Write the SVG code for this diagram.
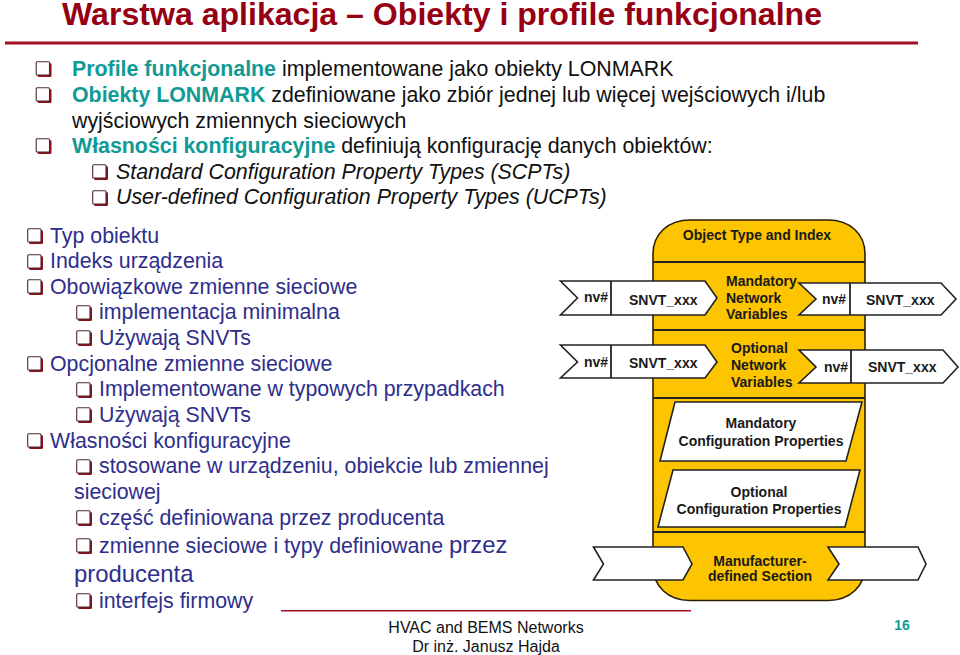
<svg xmlns="http://www.w3.org/2000/svg" width="960" height="655" viewBox="0 0 960 655">
<style>
text{font-family:"Liberation Sans",Arial,sans-serif}
.t{font-size:21.35px;fill:#111}
.g{font-weight:bold;fill:#119a94}
.i{font-size:21.35px;font-style:italic;fill:#111}
.b{font-size:21.35px;fill:#2e2e8c}
.d{font-size:14px;font-weight:bold;fill:#1a1a1a}
.a{fill:#fff;stroke:#222;stroke-width:1.6}
.l{stroke:#222;stroke-width:1.8;fill:none}
.dl{text-anchor:middle}
</style>
<defs>
<g id="cb">
<rect x="2" y="2" width="14" height="14" rx="1.500" fill="#8e0f1a"/>
<rect x="0.700" y="0.700" width="13.300" height="13.300" rx="1" fill="#fff" stroke="#4a2a2e" stroke-width="1.100"/>
</g>
</defs>
<rect width="960" height="655" fill="#fff"/>
<g id="title">
<text x="62" y="25" font-size="32.100" font-weight="bold" fill="#960012">Warstwa aplikacja – Obiekty i profile funkcjonalne</text>
<rect x="5" y="41.500" width="913" height="3" fill="#a01020"/>
</g>
<g id="top-list">
<use href="#cb" x="35.500" y="61"/><text x="72" y="76" class="t"><tspan class="g">Profile funkcjonalne</tspan> implementowane jako obiekty LONMARK</text>
<use href="#cb" x="35.500" y="87"/><text x="72" y="102" class="t"><tspan class="g">Obiekty LONMARK</tspan> zdefiniowane jako zbiór jednej lub więcej wejściowych i/lub</text>
<text x="72" y="127.500" class="t">wyjściowych zmiennych sieciowych</text>
<use href="#cb" x="35.500" y="138"/><text x="72" y="153" class="t"><tspan class="g">Własności konfiguracyjne</tspan> definiują konfigurację danych obiektów:</text>
<use href="#cb" x="92" y="164"/><text x="116" y="178.500" class="i">Standard Configuration Property Types (SCPTs)</text>
<use href="#cb" x="92" y="190"/><text x="116" y="204" class="i">User-defined Configuration Property Types (UCPTs)</text>
</g>
<g id="bottom-list">
<use href="#cb" x="27" y="228"/><text x="50" y="242.500" class="b">Typ obiektu</text>
<use href="#cb" x="27" y="254"/><text x="50" y="268" class="b">Indeks urządzenia</text>
<use href="#cb" x="27" y="279"/><text x="50" y="293.500" class="b">Obowiązkowe zmienne sieciowe</text>
<use href="#cb" x="76" y="305"/><text x="99" y="319" class="b">implementacja minimalna</text>
<use href="#cb" x="76" y="330"/><text x="99" y="345" class="b">Używają SNVTs</text>
<use href="#cb" x="27" y="356"/><text x="50" y="370.500" class="b">Opcjonalne zmienne sieciowe</text>
<use href="#cb" x="76" y="382"/><text x="99" y="396" class="b">Implementowane w typowych przypadkach</text>
<use href="#cb" x="76" y="407"/><text x="99" y="422" class="b">Używają SNVTs</text>
<use href="#cb" x="27" y="433"/><text x="50" y="447.500" class="b">Własności konfiguracyjne</text>
<use href="#cb" x="76" y="459"/><text x="99" y="473" class="b">stosowane w urządzeniu, obiekcie lub zmiennej</text>
<text x="74" y="499" class="b">sieciowej</text>
<use href="#cb" x="76" y="510"/><text x="99" y="524.500" class="b">część definiowana przez producenta</text>
<use href="#cb" x="76" y="538"/><text x="99" y="553" class="b">zmienne sieciowe i typy definiowane <tspan style="font-size:23.900px">przez</tspan></text>
<text x="74" y="582" class="b" style="font-size:23.900px">producenta</text>
<use href="#cb" x="76" y="593"/><text x="99" y="608" class="b">interfejs firmowy</text>
</g>
<g id="object-body">
<path d="M653 254C653 234 668 220 690 220H828C850 220 865 234 865 254V566C865 586 850 600.500 828 600.500H690C668 600.500 653 586 653 566Z" fill="#fdc400" stroke="#2a2000" stroke-width="1.600"/>
<path d="M653 262H865M653 330H865M653 398H865M653 532H865" class="l"/>
<text x="757" y="240" class="d dl">Object Type and Index</text>
<text x="726" y="285.500" class="d">Mandatory</text>
<text x="726" y="303" class="d">Network</text>
<text x="726" y="319" class="d">Variables</text>
<text x="731" y="353" class="d">Optional</text>
<text x="731" y="370" class="d">Network</text>
<text x="731" y="387" class="d">Variables</text>
<text x="760" y="566" class="d dl">Manufacturer-</text>
<text x="760" y="581" class="d dl">defined Section</text>
</g>
<g id="mandatory-config">
<path class="a" d="M675 402H862L846 461H660Z"/>
<text x="761" y="428" class="d dl">Mandatory</text>
<text x="761" y="446" class="d dl">Configuration Properties</text>
</g>
<g id="optional-config">
<path class="a" d="M673 470H860L845 527H658Z"/>
<text x="759" y="497" class="d dl">Optional</text>
<text x="759" y="514" class="d dl">Configuration Properties</text>
</g>
<g id="nv-mandatory-in">
<path class="a" d="M560.500 281H705L717 298L705 315H560.500L577.500 298Z"/>
<path class="l" d="M611 281V315"/>
<text x="584" y="302" class="d">nv#</text><text x="629" y="305" class="d">SNVT_xxx</text>
</g>
<g id="nv-mandatory-out">
<path class="a" d="M799 283H941L956 299L941 315H799L816 299Z"/>
<path class="l" d="M850 283V315"/>
<text x="822" y="304" class="d">nv#</text><text x="866" y="305" class="d">SNVT_xxx</text>
</g>
<g id="nv-optional-in">
<path class="a" d="M560.500 345H705L717 362L705 378H560.500L577.500 362Z"/>
<path class="l" d="M611 345V378"/>
<text x="584" y="367" class="d">nv#</text><text x="629" y="368" class="d">SNVT_xxx</text>
</g>
<g id="nv-optional-out">
<path class="a" d="M799 350H943L958 367L943 383H799L816 367Z"/>
<path class="l" d="M851 350V383"/>
<text x="824" y="372" class="d">nv#</text><text x="868" y="372" class="d">SNVT_xxx</text>
</g>
<g id="mfr-left"><path class="a" d="M593.500 547H683L692 564L683 580H593.500L603.500 564Z"/></g>
<g id="mfr-right"><path class="a" d="M828 547H918L926 564L918 580H828L839 564Z"/></g>
<g id="footer">
<rect x="281" y="610" width="410" height="1.500" fill="#a01020"/>
<text x="486" y="633" font-size="16" fill="#111" text-anchor="middle">HVAC and BEMS Networks</text>
<text x="486" y="652" font-size="16" fill="#111" text-anchor="middle">Dr inż. Janusz Hajda</text>
<text x="902" y="630" font-size="14" font-weight="bold" fill="#119a94" text-anchor="middle">16</text>
</g>
</svg>
